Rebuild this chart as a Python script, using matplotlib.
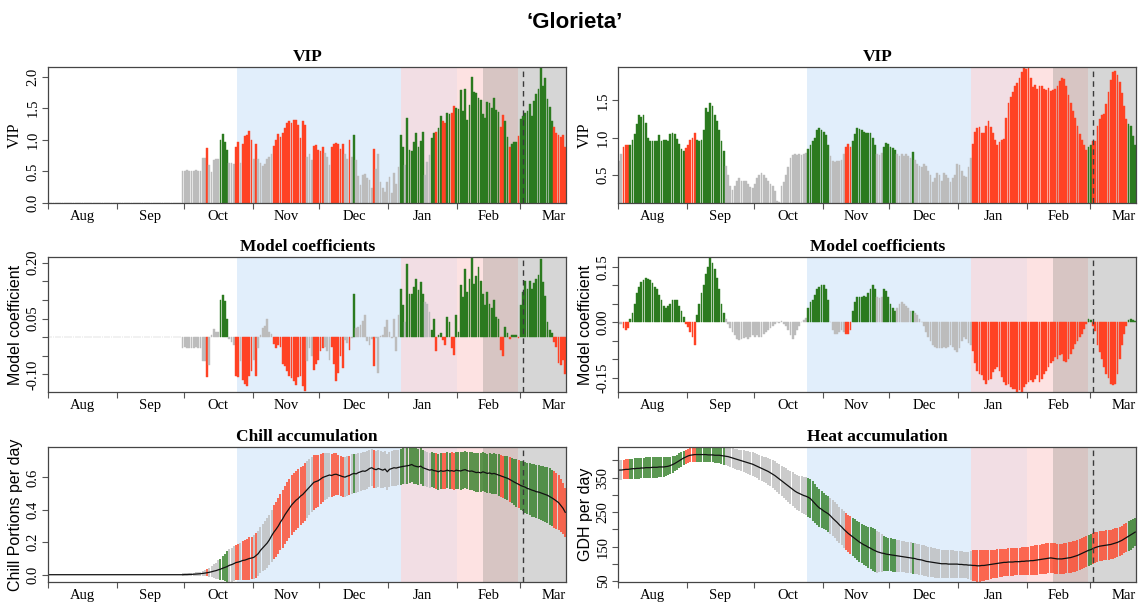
import numpy as np
import matplotlib.pyplot as plt

plt.rcParams['font.family'] = ['Liberation Serif', 'DejaVu Serif']

# ---- calendar: day 0 = 1 August, one bar per day up to 21 March ----
MONTHS = ['Aug', 'Sep', 'Oct', 'Nov', 'Dec', 'Jan', 'Feb', 'Mar']
MONTH_LENGTHS = [31, 30, 31, 30, 31, 31, 28, 31]

# phase boundaries (day offsets) and the date of the dashed marker
PHASE_EDGES = [84.5, 158.2, 183.2, 195.0, 210.8]
DASH_DAY = 213

# significance class per day: g = VIP>0.8 & positive, r = VIP>0.8 & negative, . = not important
LEFT_RUNS = [('.', 71), ('r', 1), ('.', 5), ('g', 4), ('.', 3), ('r', 2), ('.', 1), ('r', 5),
             ('.', 1), ('r', 1), ('.', 7), ('r', 15), ('.', 3), ('r', 5), ('.', 3), ('r', 6),
             ('.', 2), ('r', 1), ('.', 1), ('g', 1), ('.', 8), ('r', 1), ('.', 11), ('g', 2),
             ('.', 1), ('g', 8), ('.', 3), ('g', 2), ('r', 1), ('g', 2), ('r', 2), ('g', 2),
             ('r', 2), ('g', 20), ('r', 2), ('g', 2), ('r', 1), ('g', 3), ('r', 1), ('g', 15),
             ('r', 6)]
RIGHT_RUNS = [('.', 2), ('r', 3), ('g', 25), ('r', 5), ('g', 13), ('.', 37), ('g', 10), ('.', 7),
              ('r', 3), ('g', 11), ('.', 3), ('g', 6), ('.', 7), ('g', 1), ('.', 26), ('r', 52),
              ('g', 2), ('r', 16), ('g', 4)]

# ---- chill model (left column) ----
LEFT_VIP = [
    0, 0, 0, 0, 0, 0, 0, 0, 0, 0,
    0, 0, 0, 0, 0, 0, 0, 0, 0, 0,
    0, 0, 0, 0, 0, 0, 0, 0, 0, 0,
    0, 0, 0, 0, 0, 0, 0, 0, 0, 0,
    0, 0, 0, 0, 0, 0, 0, 0, 0, 0,
    0, 0, 0, 0, 0, 0, 0, 0, 0, 0,
    0.51, 0.51, 0.52, 0.51, 0.51, 0.51, 0.52, 0.51, 0.51, 0.71,
    0.71, 0.87, 0.60, 0.49, 0.68, 0.69, 0.69, 1.00, 1.09, 0.97,
    0.84, 0.63, 0.63, 0.62, 0.89, 0.96, 0.63, 0.93, 1.06, 1.08,
    1.14, 0.99, 0.70, 0.93, 0.70, 0.63, 0.58, 0.62, 0.69, 0.72,
    0.78, 0.90, 0.99, 1.09, 1.04, 1.11, 1.18, 1.26, 1.29, 1.27,
    1.31, 1.32, 1.23, 1.02, 1.29, 1.23, 0.73, 0.78, 0.68, 0.90,
    0.92, 0.84, 0.83, 0.88, 0.79, 0.73, 0.60, 0.88, 0.94, 0.95,
    0.93, 0.85, 0.94, 0.78, 0.70, 1.00, 0.73, 1.07, 0.68, 0.42,
    0.28, 0.44, 0.46, 0.39, 0.36, 0.23, 0.86, 0.54, 0.78, 0.33,
    0.23, 0.17, 0.33, 0.41, 0.16, 0.47, 0.30, 0.57, 1.07, 0.88,
    0.60, 1.34, 0.84, 0.83, 0.97, 1.11, 0.88, 0.98, 1.12, 0.44,
    0.65, 0.76, 1.03, 1.11, 1.13, 1.19, 1.38, 1.29, 1.27, 1.43,
    1.40, 1.43, 1.54, 1.50, 1.48, 1.79, 1.45, 1.81, 1.31, 1.55,
    2.00, 1.75, 1.74, 1.66, 1.63, 1.41, 1.34, 1.60, 1.58, 1.50,
    1.66, 1.47, 1.44, 1.20, 1.39, 1.29, 1.05, 0.88, 0.93, 0.96,
    0.97, 1.06, 1.33, 1.38, 1.43, 1.45, 1.57, 1.38, 1.62, 1.73,
    1.80, 2.15, 1.85, 1.98, 1.65, 1.52, 1.30, 1.20, 1.10, 1.08,
    1.05, 1.08, 0.88,
]
LEFT_COEF = [
    0, 0, 0, 0, 0, 0, 0, 0, 0, 0,
    0, 0, 0, 0, 0, 0, 0, 0, 0, 0,
    0, 0, 0, 0, 0, 0, 0, 0, 0, 0,
    0, 0, 0, 0, 0, 0, 0, 0, 0, 0,
    0, 0, 0, 0, 0, 0, 0, 0, 0, 0,
    0, 0, 0, 0, 0, 0, 0, 0, 0, 0,
    -0.028, -0.027, -0.028, -0.028, -0.029, -0.028, -0.027, -0.028, -0.028, -0.063,
    -0.063, -0.108, -0.075, 0.005, 0.022, 0.014, 0.014, 0.100, 0.112, 0.097,
    0.050, -0.005, -0.012, -0.020, -0.103, -0.106, -0.065, -0.115, -0.125, -0.130,
    -0.105, -0.090, -0.060, -0.105, -0.030, 0.005, 0.024, 0.030, 0.048, 0.015,
    0.008, -0.018, -0.030, -0.020, -0.025, -0.073, -0.078, -0.090, -0.103, -0.110,
    -0.118, -0.129, -0.108, -0.104, -0.131, -0.145, -0.065, -0.030, -0.050, -0.087,
    -0.073, -0.060, -0.038, -0.030, -0.025, -0.038, -0.060, -0.025, -0.073, -0.118,
    -0.096, -0.051, -0.082, -0.007, -0.016, -0.034, -0.003, 0.117, 0.024, 0.027,
    0.033, 0.044, 0.059, -0.010, -0.020, -0.005, -0.078, -0.002, -0.096, 0.003,
    0.006, 0.028, 0.046, 0.015, -0.003, 0.050, -0.038, 0.060, 0.130, 0.086,
    0.040, 0.195, 0.117, 0.117, 0.135, 0.157, 0.126, 0.148, 0.117, 0.095,
    0.090, 0.068, 0.019, 0.050, -0.038, 0.006, 0.010, -0.007, -0.020, 0.055,
    0.042, -0.030, -0.047, 0.059, 0.015, 0.139, 0.108, 0.183, 0.121, 0.157,
    0.214, 0.143, 0.165, 0.188, 0.152, 0.117, 0.086, 0.121, 0.090, 0.077,
    0.099, 0.055, 0.050, -0.034, -0.051, 0.028, 0.012, -0.004, 0.006, 0.007,
    0.005, -0.003, 0.085, 0.120, 0.150, 0.128, 0.152, 0.128, 0.145, 0.155,
    0.168, 0.210, 0.148, 0.110, 0.040, 0.020, 0.010, -0.013, -0.026, -0.068,
    -0.075, -0.062, -0.098,
]
CHILL_MEAN = [
    0, 0, 0, 0, 0, 0, 0, 0, 0, 0,
    0, 0, 0, 0, 0, 0, 0, 0, 0, 0,
    0, 0, 0, 0, 0, 0, 0, 0, 0, 0,
    0, 0, 0, 0, 0, 0, 0, 0, 0, 0,
    0, 0, 0, 0, 0, 0, 0, 0, 0, 0,
    0, 0, 0, 0, 0, 0, 0, 0, 0, 0,
    0.000, 0.001, 0.001, 0.002, 0.002, 0.003, 0.004, 0.005, 0.006, 0.008,
    0.010, 0.012, 0.015, 0.018, 0.022, 0.025, 0.030, 0.034, 0.040, 0.045,
    0.050, 0.058, 0.062, 0.068, 0.075, 0.078, 0.082, 0.088, 0.090, 0.095,
    0.100, 0.103, 0.107, 0.118, 0.130, 0.150, 0.165, 0.180, 0.195, 0.215,
    0.240, 0.262, 0.280, 0.300, 0.325, 0.345, 0.370, 0.390, 0.410, 0.430,
    0.445, 0.460, 0.470, 0.485, 0.495, 0.510, 0.525, 0.540, 0.555, 0.570,
    0.575, 0.580, 0.590, 0.600, 0.605, 0.610, 0.615, 0.612, 0.618, 0.620,
    0.615, 0.610, 0.605, 0.602, 0.608, 0.612, 0.620, 0.625, 0.622, 0.630,
    0.635, 0.640, 0.638, 0.645, 0.655, 0.660, 0.652, 0.648, 0.655, 0.650,
    0.645, 0.652, 0.635, 0.650, 0.655, 0.660, 0.658, 0.662, 0.665, 0.668,
    0.670, 0.672, 0.675, 0.680, 0.672, 0.668, 0.665, 0.670, 0.660, 0.655,
    0.650, 0.645, 0.648, 0.642, 0.640, 0.635, 0.642, 0.638, 0.640, 0.645,
    0.640, 0.642, 0.638, 0.645, 0.642, 0.640, 0.645, 0.648, 0.642, 0.638,
    0.640, 0.635, 0.630, 0.632, 0.628, 0.635, 0.630, 0.625, 0.628, 0.622,
    0.625, 0.620, 0.615, 0.610, 0.605, 0.600, 0.595, 0.588, 0.580, 0.572,
    0.565, 0.558, 0.550, 0.545, 0.540, 0.532, 0.528, 0.522, 0.518, 0.512,
    0.510, 0.505, 0.500, 0.495, 0.490, 0.482, 0.474, 0.465, 0.455, 0.445,
    0.428, 0.410, 0.385,
]
CHILL_SD = [
    0, 0, 0, 0, 0, 0, 0, 0, 0, 0,
    0, 0, 0, 0, 0, 0, 0, 0, 0, 0,
    0, 0, 0, 0, 0, 0, 0, 0, 0, 0,
    0, 0, 0, 0, 0, 0, 0, 0, 0, 0,
    0, 0, 0, 0, 0, 0, 0, 0, 0, 0,
    0, 0, 0, 0, 0, 0, 0, 0, 0, 0,
    0.008, 0.008, 0.009, 0.009, 0.010, 0.010, 0.011, 0.012, 0.012, 0.015,
    0.018, 0.022, 0.028, 0.035, 0.042, 0.050, 0.058, 0.066, 0.075, 0.085,
    0.095, 0.100, 0.104, 0.108, 0.110, 0.112, 0.115, 0.120, 0.125, 0.128,
    0.130, 0.132, 0.135, 0.138, 0.140, 0.142, 0.145, 0.150, 0.152, 0.155,
    0.160, 0.165, 0.170, 0.172, 0.175, 0.178, 0.180, 0.182, 0.182, 0.183,
    0.183, 0.182, 0.180, 0.180, 0.178, 0.178, 0.175, 0.172, 0.170, 0.168,
    0.165, 0.160, 0.155, 0.150, 0.145, 0.140, 0.135, 0.132, 0.130, 0.128,
    0.125, 0.125, 0.124, 0.125, 0.123, 0.122, 0.122, 0.120, 0.120, 0.120,
    0.118, 0.118, 0.117, 0.116, 0.115, 0.115, 0.115, 0.114, 0.113, 0.113,
    0.112, 0.112, 0.111, 0.110, 0.110, 0.111, 0.110, 0.109, 0.110, 0.111,
    0.110, 0.112, 0.110, 0.108, 0.110, 0.111, 0.109, 0.110, 0.111, 0.110,
    0.108, 0.108, 0.109, 0.110, 0.110, 0.110, 0.111, 0.112, 0.112, 0.112,
    0.112, 0.113, 0.113, 0.114, 0.114, 0.115, 0.115, 0.116, 0.116, 0.117,
    0.117, 0.118, 0.118, 0.119, 0.120, 0.120, 0.121, 0.122, 0.122, 0.123,
    0.124, 0.125, 0.127, 0.128, 0.130, 0.132, 0.135, 0.138, 0.140, 0.143,
    0.146, 0.149, 0.152, 0.155, 0.158, 0.160, 0.162, 0.163, 0.164, 0.165,
    0.166, 0.168, 0.170, 0.172, 0.174, 0.175, 0.175, 0.174, 0.172, 0.168,
    0.162, 0.156, 0.150,
]

# ---- heat model (right column) ----
RIGHT_VIP = [
    0.68, 0.78, 0.88, 0.90, 0.90, 0.90, 0.97, 1.05, 1.18, 1.30,
    1.28, 1.30, 1.20, 1.00, 0.96, 0.95, 0.95, 0.95, 1.03, 0.96,
    0.97, 0.97, 0.96, 1.05, 1.06, 1.05, 0.98, 0.92, 0.85, 0.82,
    0.86, 0.90, 0.97, 1.00, 1.06, 0.97, 0.96, 0.97, 1.10, 1.40,
    1.35, 1.47, 1.42, 1.30, 1.22, 1.10, 0.95, 0.82, 0.62, 0.50,
    0.35, 0.30, 0.35, 0.42, 0.45, 0.41, 0.42, 0.42, 0.38, 0.34,
    0.32, 0.37, 0.45, 0.50, 0.52, 0.50, 0.46, 0.42, 0.38, 0.35,
    0.28, 0.15, 0.13, 0.35, 0.40, 0.50, 0.60, 0.73, 0.77, 0.78,
    0.77, 0.78, 0.77, 0.78, 0.79, 0.85, 0.90, 0.95, 1.00, 1.10,
    1.13, 1.10, 1.08, 1.03, 0.90, 0.75, 0.68, 0.67, 0.68, 0.68,
    0.70, 0.78, 0.88, 0.92, 0.88, 0.95, 1.05, 1.13, 1.12, 1.10,
    1.08, 1.06, 1.06, 1.06, 1.00, 0.90, 0.78, 0.77, 0.79, 0.88,
    0.93, 0.92, 0.88, 0.86, 0.84, 0.78, 0.75, 0.78, 0.75, 0.78,
    0.75, 0.72, 0.81, 0.70, 0.65, 0.62, 0.60, 0.65, 0.62, 0.55,
    0.50, 0.40, 0.45, 0.53, 0.50, 0.42, 0.52, 0.50, 0.45, 0.40,
    0.45, 0.50, 0.65, 0.63, 0.55, 0.49, 0.47, 0.61, 0.72, 0.92,
    1.08, 1.13, 1.14, 1.06, 1.06, 1.15, 1.22, 1.14, 1.06, 0.97,
    0.90, 0.94, 0.97, 0.98, 1.27, 1.46, 1.55, 1.62, 1.70, 1.73,
    1.80, 1.88, 1.95, 1.92, 1.94, 1.80, 1.68, 1.71, 1.66, 1.70,
    1.70, 1.66, 1.64, 1.67, 1.63, 1.64, 1.66, 1.70, 1.76, 1.80,
    1.79, 1.70, 1.58, 1.46, 1.36, 1.26, 1.15, 1.05, 0.97, 0.90,
    0.84, 0.88, 0.90, 0.95, 0.95, 1.15, 1.25, 1.30, 1.32, 1.45,
    1.62, 1.78, 1.88, 1.90, 1.84, 1.75, 1.60, 1.42, 1.25, 1.18,
    1.15, 1.02, 0.90,
]
RIGHT_COEF = [
    -0.004, -0.003, -0.015, -0.020, -0.015, 0.010, 0.025, 0.050, 0.080, 0.095,
    0.110, 0.115, 0.120, 0.118, 0.115, 0.108, 0.095, 0.090, 0.075, 0.060,
    0.045, 0.040, 0.045, 0.050, 0.062, 0.062, 0.060, 0.045, 0.030, 0.015,
    -0.005, -0.012, -0.025, -0.040, -0.060, 0.020, 0.050, 0.080, 0.100, 0.130,
    0.150, 0.175, 0.160, 0.145, 0.120, 0.090, 0.050, 0.025, 0.010, -0.005,
    -0.015, -0.025, -0.035, -0.045, -0.048, -0.045, -0.043, -0.040, -0.045, -0.040,
    -0.035, -0.040, -0.035, -0.040, -0.038, -0.030, -0.025, -0.020, -0.015, -0.010,
    -0.005, 0.000, -0.002, 0.005, -0.005, -0.010, -0.020, -0.035, -0.045, -0.035,
    -0.020, -0.010, 0.002, 0.006, 0.012, 0.040, 0.055, 0.060, 0.075, 0.090,
    0.095, 0.100, 0.100, 0.090, 0.060, 0.000, -0.020, -0.030, -0.030, -0.025,
    -0.020, -0.025, -0.030, -0.030, -0.020, 0.030, 0.055, 0.070, 0.070, 0.070,
    0.072, 0.070, 0.080, 0.090, 0.100, 0.090, 0.070, 0.065, 0.070, 0.090,
    0.085, 0.070, 0.050, 0.040, 0.030, 0.040, 0.050, 0.055, 0.050, 0.045,
    0.040, 0.030, 0.030, 0.025, 0.020, 0.010, 0.000, -0.010, -0.025, -0.040,
    -0.050, -0.060, -0.065, -0.070, -0.070, -0.070, -0.065, -0.070, -0.065, -0.060,
    -0.065, -0.075, -0.080, -0.070, -0.050, -0.040, -0.045, -0.055, -0.060, -0.076,
    -0.110, -0.130, -0.138, -0.143, -0.156, -0.165, -0.156, -0.152, -0.134, -0.125,
    -0.120, -0.130, -0.147, -0.160, -0.170, -0.165, -0.174, -0.179, -0.181, -0.187,
    -0.183, -0.187, -0.174, -0.165, -0.160, -0.156, -0.160, -0.152, -0.143, -0.160,
    -0.152, -0.138, -0.130, -0.120, -0.110, -0.103, -0.094, -0.098, -0.089, -0.085,
    -0.103, -0.107, -0.098, -0.085, -0.071, -0.058, -0.049, -0.040, -0.031, -0.018,
    -0.004, 0.010, 0.008, -0.010, -0.022, -0.060, -0.080, -0.100, -0.120, -0.140,
    -0.150, -0.165, -0.170, -0.165, -0.140, -0.100, -0.060, -0.030, -0.010, 0.008,
    0.010, 0.008, 0.004,
]
HEAT_MEAN = [
    372, 372, 373, 374, 374, 375, 376, 376, 377, 377,
    378, 378, 379, 379, 379, 380, 380, 380, 381, 381,
    381, 382, 383, 385, 388, 391, 395, 399, 403, 407,
    410, 413, 415, 416, 417, 417, 417, 417, 417, 417,
    416, 416, 416, 415, 415, 415, 414, 413, 412, 411,
    409, 407, 405, 403, 401, 399, 397, 395, 393, 391,
    389, 386, 383, 380, 377, 374, 371, 368, 364, 360,
    356, 351, 346, 341, 336, 331, 326, 321, 316, 311,
    307, 304, 301, 298, 296, 293, 289, 282, 275, 268,
    262, 258, 253, 249, 245, 239, 232, 226, 220, 213,
    207, 200, 194, 188, 183, 178, 173, 168, 163, 159,
    155, 152, 148, 145, 141, 138, 135, 133, 131, 130,
    128, 127, 126, 125, 124, 123, 122, 121, 120, 119,
    118, 117, 116, 115, 113, 112, 111, 109, 107, 106,
    105, 104, 103, 102, 101, 100, 100, 100, 99, 99,
    99, 99, 99, 98, 98, 97, 97, 96, 96, 95,
    95, 94, 94, 95, 95, 96, 97, 98, 99, 100,
    101, 102, 103, 104, 104, 105, 105, 105, 106, 106,
    106, 107, 107, 108, 108, 109, 109, 110, 111, 112,
    113, 114, 115, 116, 117, 116, 115, 114, 114, 114,
    115, 116, 117, 118, 120, 122, 124, 127, 130, 133,
    136, 139, 141, 144, 147, 149, 151, 152, 153, 154,
    155, 156, 158, 160, 162, 165, 168, 172, 176, 180,
    184, 188, 192,
]
HEAT_SD = [
    28, 28, 28, 29, 29, 29, 29, 30, 30, 30,
    30, 30, 30, 30, 30, 30, 30, 30, 29, 29,
    28, 27, 26, 25, 24, 23, 22, 22, 21, 21,
    21, 21, 21, 21, 21, 21, 21, 21, 21, 22,
    22, 22, 22, 23, 23, 23, 24, 25, 26, 27,
    28, 28, 29, 30, 30, 31, 32, 32, 33, 33,
    34, 35, 35, 36, 37, 37, 38, 39, 39, 40,
    41, 42, 43, 44, 45, 46, 47, 48, 49, 50,
    51, 52, 53, 54, 55, 56, 57, 57, 57, 56,
    55, 54, 53, 52, 52, 52, 52, 52, 53, 53,
    53, 53, 54, 54, 55, 55, 56, 56, 57, 57,
    58, 59, 60, 61, 62, 62, 61, 58, 55, 52,
    50, 49, 48, 48, 47, 47, 46, 46, 45, 45,
    45, 45, 45, 44, 44, 44, 44, 44, 44, 44,
    44, 43, 43, 42, 42, 41, 41, 40, 40, 40,
    40, 39, 39, 39, 38, 38, 38, 39, 42, 44,
    46, 47, 47, 46, 45, 44, 43, 41, 41, 41,
    41, 41, 41, 40, 40, 40, 40, 40, 40, 40,
    40, 41, 41, 41, 42, 42, 42, 43, 43, 43,
    43, 43, 44, 44, 44, 44, 44, 44, 44, 44,
    44, 44, 45, 45, 45, 45, 45, 45, 45, 45,
    45, 45, 45, 44, 44, 43, 43, 43, 43, 43,
    43, 43, 43, 43, 42, 42, 42, 42, 43, 43,
    43, 42, 41,
]

CLASS_COLORS = {'g': '#2b7a1f', 'r': '#ff4224', '.': '#bcbcbc'}
PHASE_COLORS = ['#e1eefb', '#f2dee4', '#fde2e2', '#d7c5c3', '#d6d6d6']
SANS = ['Liberation Sans', 'DejaVu Sans']


def expand(runs):
    return [CLASS_COLORS[c] for c, n in runs for _ in range(n)]


def decorate(ax, n):
    edges = PHASE_EDGES + [n - 0.5]
    for x0, x1, col in zip(edges[:-1], edges[1:], PHASE_COLORS):
        ax.axvspan(x0, x1, color=col, lw=0, zorder=0)
    ax.axvline(DASH_DAY, color='#3a3a3a', ls=(0, (4, 3)), lw=1.0, zorder=4)

    starts = np.cumsum([0] + MONTH_LENGTHS[:-1]) - 0.5
    mids = starts + np.array(MONTH_LENGTHS) / 2
    ax.set_xticks(starts)
    ax.set_xticklabels([])
    ax.set_xticks(mids, minor=True)
    ax.set_xticklabels(MONTHS, minor=True, fontsize=10.5)
    ax.tick_params(axis='x', which='major', length=4, width=0.8, color='#555555')
    ax.tick_params(axis='x', which='minor', length=0, pad=5)
    ax.set_xlim(-0.5, n - 0.5)
    for sp in ax.spines.values():
        sp.set_color('#454545')
        sp.set_linewidth(0.9)
        sp.set_zorder(5)


def y_axis(ax, ticks, shown, fmt, label, family=None):
    ax.set_yticks(ticks)
    ax.set_yticklabels([fmt.format(t) if any(abs(t - s) < 1e-9 for s in shown) else ''
                        for t in ticks], rotation=90, va='center', fontsize=10.5)
    ax.tick_params(axis='y', length=4, width=0.8, color='#555555', pad=2)
    kw = {'fontsize': 11.5}
    if family:
        kw['family'] = family
    ax.set_ylabel(label, labelpad=3, **kw)


def bar_panel(ax, values, colors, title):
    days = np.arange(len(values))
    vals = np.array(values, dtype=float)
    ax.bar(days, vals, width=0.8, color=colors, edgecolor=colors, linewidth=0.3, zorder=2)
    decorate(ax, len(values))
    ax.set_title(title, fontweight='bold', fontsize=12.5, pad=4)
    return vals


def accum_panel(ax, mean, sd, colors, title):
    days = np.arange(len(mean))
    m = np.array(mean, dtype=float)
    s = np.array(sd, dtype=float)
    ax.vlines(days, m - s, m + s, colors=colors, lw=1.1, zorder=2)
    ax.plot(days, m, color='#111111', lw=0.9, zorder=3)
    decorate(ax, len(mean))
    ax.set_title(title, fontweight='bold', fontsize=12.5, pad=4)
    ax.set_ylim((m - s).min(), (m + s).max())


left_cols = expand(LEFT_RUNS)
right_cols = expand(RIGHT_RUNS)

fig = plt.figure(figsize=(11.43, 6.06), dpi=100)
lx, rx, w = 0.042, 0.5407, 0.4535
rows = [(0.6650, 0.2244), (0.3531, 0.2228), (0.0396, 0.2228)]

# VIP
ax = fig.add_axes([lx, rows[0][0], w, rows[0][1]])
v = bar_panel(ax, LEFT_VIP, left_cols, 'VIP')
ax.set_ylim(0, v.max())
y_axis(ax, [0, 0.5, 1.0, 1.5, 2.0], [0, 0.5, 1.0, 1.5, 2.0], '{:.1f}', 'VIP')

ax = fig.add_axes([rx, rows[0][0], w, rows[0][1]])
v = bar_panel(ax, RIGHT_VIP, right_cols, 'VIP')
ax.set_ylim(v.min() - 0.01, v.max())
y_axis(ax, [0.5, 1.0, 1.5], [0.5, 1.0, 1.5], '{:.1f}', 'VIP')

# model coefficients
coef_ticks = [-0.15, -0.10, -0.05, 0.0, 0.05, 0.10, 0.15, 0.20]
ax = fig.add_axes([lx, rows[1][0], w, rows[1][1]])
v = bar_panel(ax, LEFT_COEF, left_cols, 'Model coefficients')
ax.set_ylim(v.min() - 0.002, v.max() + 0.001)
y_axis(ax, coef_ticks[1:], [-0.10, 0.05, 0.20], '{:.2f}', 'Model coefficient', SANS)

ax = fig.add_axes([rx, rows[1][0], w, rows[1][1]])
v = bar_panel(ax, RIGHT_COEF, right_cols, 'Model coefficients')
ax.set_ylim(v.min() - 0.001, v.max() + 0.002)
y_axis(ax, coef_ticks[:-1], [-0.15, 0.0, 0.15], '{:.2f}', 'Model coefficient', SANS)

# accumulation
ax = fig.add_axes([lx, rows[2][0], w, rows[2][1]])
accum_panel(ax, CHILL_MEAN, CHILL_SD, left_cols, 'Chill accumulation')
y_axis(ax, [0.0, 0.2, 0.4, 0.6], [0.0, 0.2, 0.4, 0.6], '{:.1f}', 'Chill Portions per day', SANS)

ax = fig.add_axes([rx, rows[2][0], w, rows[2][1]])
accum_panel(ax, HEAT_MEAN, HEAT_SD, right_cols, 'Heat accumulation')
y_axis(ax, [50, 100, 150, 200, 250, 300, 350, 400], [50, 150, 250, 350], '{:.0f}',
       'GDH per day', SANS)

fig.text(0.503, 0.963, '\u2018Glorieta\u2019', ha='center', va='center',
         fontsize=16, fontweight='bold', family=SANS)

fig.savefig('out.png', dpi=100)
